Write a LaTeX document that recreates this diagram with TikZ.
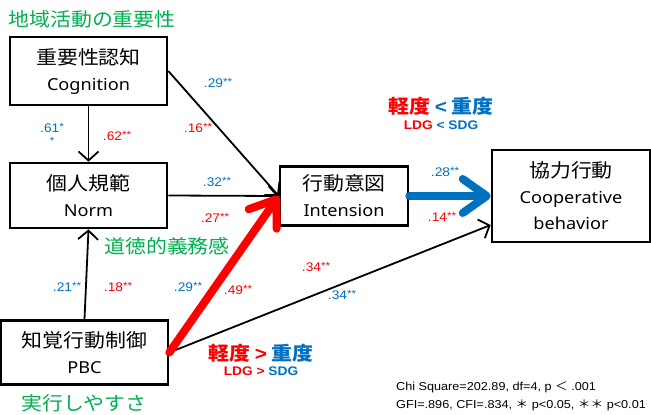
\documentclass[tikz,border=0pt]{standalone}
\usepackage{fontspec}
\setmainfont{Liberation Sans}[FakeStretch=1.1]
\newfontfamily\jp{Noto Sans CJK JP}[FakeStretch=1.1]
\newfontfamily\lat{Noto Sans}[FakeStretch=1.1]
\newfontfamily\lsans{Liberation Sans}[FakeStretch=1.1]
\usetikzlibrary{arrows.meta}
\definecolor{grn}{HTML}{00B050}
\definecolor{blu}{HTML}{0070C0}
\definecolor{rd}{HTML}{FF0000}
\newcommand{\pval}[1]{#1\raisebox{2.6pt}{\fontsize{10.5}{11}\selectfont **}}
\begin{document}
\begin{tikzpicture}[x=1pt,y=-1pt,
  box/.style={draw,line width=2.6pt,align=center,inner sep=0pt,
    font=\lat\fontsize{16.5}{26}\selectfont},
  conn/.style={line width=1.8pt,-{Straight Barb[length=9pt,width=20pt]}},
  bigconn/.style={line width=8pt,line cap=round,
    -{Straight Barb[round,length=24pt,width=34pt]}},
  lab/.style={font=\fontsize{12.5}{14}\selectfont,inner sep=0pt},
  grnlab/.style={font=\jp\fontsize{19}{22}\selectfont,text=grn,inner sep=0pt},
  cmp/.style={font=\jp\bfseries\fontsize{19}{22}\selectfont,inner sep=0pt},
  cmpsub/.style={font=\bfseries\fontsize{12.5}{14}\selectfont,inner sep=0pt},
  stat/.style={font=\fontsize{11.5}{14}\selectfont,inner sep=0pt,anchor=west}]
\useasboundingbox (0,0) rectangle (651,415);

% boxes
\node[box,minimum width=157pt,minimum height=68pt] (cog) at (88.5,71)
  {{\jp\fontsize{19}{26}\selectfont 重要性認知}\\Cognition};
\node[box,minimum width=157pt,minimum height=65pt] (norm) at (88.5,195.5)
  {{\jp\fontsize{19}{26}\selectfont 個人規範}\\Norm};
\node[box,minimum width=167pt,minimum height=64pt] (pbc) at (84.5,352.5)
  {{\jp\fontsize{19}{27}\selectfont 知覚行動制御}\\PBC};
\node[box,minimum width=128pt,minimum height=59pt] (int) at (344,196)
  {{\jp\fontsize{19}{25}\selectfont 行動意図}\\Intension};
\node[box,minimum width=158pt,minimum height=92pt] (coop) at (571,196)
  {{\jp\fontsize{19}{26}\selectfont 協力行動}\\Cooperative\\behavior};

% green captions
\node[grnlab] (t1) at (92,19) {地域活動の重要性};
\node[grnlab] (t2) at (167,246) {道徳的義務感};
\node[grnlab] (t3) at (84,403) {実行しやすさ};

% connectors
\draw[conn] (cog.south) -- (norm.north);
\draw[conn] (cog.east) -- (int.west);
\draw[conn] (norm.east) -- (int.west);
\draw[conn] (pbc.north) -- (norm.south);
\draw[conn] (pbc.east) -- ([yshift=-29pt]coop.west);
\draw[bigconn,rd] (pbc.east) -- (int.west);
\draw[bigconn,blu] (int.east) -- (coop.west);

% coefficients
\node[lab,text=blu] (l1) at (218,83) {\pval{.29}};
\node[lab,text=rd] (l2) at (198,128) {\pval{.16}};
\node[lab,text=blu] (l3) at (52,128) {.61\raisebox{2.6pt}{\fontsize{10.5}{11}\selectfont *}};
\node[lab,text=blu,font=\fontsize{10.5}{11}\selectfont] (l3b) at (52,141) {*};
\node[lab,text=rd] (l4) at (117,136) {\pval{.62}};
\node[lab,text=blu] (l5) at (217,182) {\pval{.32}};
\node[lab,text=rd] (l6) at (215,218) {\pval{.27}};
\node[lab,text=blu] (l7) at (67,287) {\pval{.21}};
\node[lab,text=rd] (l8) at (118,287) {\pval{.18}};
\node[lab,text=blu] (l9) at (188,287) {\pval{.29}};
\node[lab,text=rd] (l10) at (238,290) {\pval{.49}};
\node[lab,text=rd] (l11) at (316,267) {\pval{.34}};
\node[lab,text=blu] (l12) at (342,295) {\pval{.34}};
\node[lab,text=blu] (l13) at (445,172) {\pval{.28}};
\node[lab,text=rd] (l14) at (442,217) {\pval{.14}};

% group comparisons
\node[cmp] (c1) at (441,106) {\textcolor{rd}{軽度}~\textcolor{blu}{{\lsans\bfseries <}~重度}};
\node[cmpsub] (c1s) at (441,125) {\textcolor{rd}{LDG}~\textcolor{blu}{<~SDG}};
\node[cmp] (c2) at (261,353) {\textcolor{rd}{軽度~{\lsans\bfseries >}}~\textcolor{blu}{重度}};
\node[cmpsub] (c2s) at (261,371) {\textcolor{rd}{LDG~>}~\textcolor{blu}{SDG}};

% statistics
\node[stat] (s1) at (396,387) {Chi Square=202.89, df=4, p {\jp ＜} .001};
\node[stat] (s2) at (396,405) {GFI=.896, CFI=.834, {\jp ＊} p<0.05, {\jp ＊＊} p<0.01};
\end{tikzpicture}
\end{document}
